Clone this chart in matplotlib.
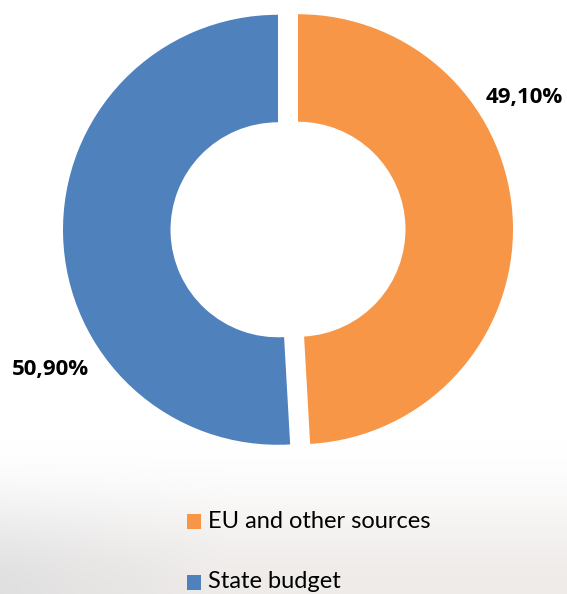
import numpy as np
import matplotlib
matplotlib.use("Agg")
import matplotlib.pyplot as plt
from matplotlib.patches import Rectangle

# ---- data ----
categories = ["EU and other sources", "State budget"]
shares = [49.10, 50.90]
share_labels = ["49,10%", "50,90%"]
colors = ["#F79646", "#4F81BD"]

W, H = 567, 594
fig = plt.figure(figsize=(W / 100, H / 100), dpi=100)
fig.patch.set_facecolor("white")

# background: white fading to a light greyish photo-like tone at the bottom
bg = fig.add_axes([0, 0, 1, 1], zorder=0)
yy = np.linspace(0, 1, H)[:, None]          # 0 top -> 1 bottom
xx = np.linspace(0, 1, W)[None, :]
s = np.clip((yy - 0.74) / 0.26, 0, 1)
t = s * s * (3 - 2 * s)
top = np.array([1.0, 1.0, 1.0])
bot_left = np.array([0.88, 0.878, 0.878])
bot_mid = np.array([0.935, 0.922, 0.915])
bot = bot_left + (bot_mid - bot_left) * np.clip(xx / 0.4, 0, 1)[..., None]
img = top + (bot - top) * t[..., None]
bg.imshow(img, aspect="auto", extent=[0, 1, 0, 1], origin="upper")
bg.set_axis_off()

ax = fig.add_axes([0, 0, 1, 1], zorder=1)
ax.patch.set_alpha(0)
cx, cy = 288, H - 229.5
R = 215
ax.pie(shares, colors=colors, startangle=90, counterclock=False,
       radius=R, center=(cx, cy), explode=[10, 10],
       wedgeprops=dict(width=R * 0.5, edgecolor="none"))
ax.set_xlim(0, W)
ax.set_ylim(0, H)
ax.set_aspect("equal")
ax.set_axis_off()

lab_font = dict(family=["Open Sans", "DejaVu Sans"], fontweight="bold", fontsize=16, color="black")
label_pos = [(524, H - 98), (50, H - 369)]
for txt, (lx, ly) in zip(share_labels, label_pos):
    ax.text(lx, ly, txt, ha="center", va="center", **lab_font)

# legend (vertical, square markers)
leg_font = dict(family=["Lato", "DejaVu Sans"], fontsize=17, color="black")
leg_rows = [H - 521, H - 582]
for name, col, ry in zip(categories, colors, leg_rows):
    ax.add_patch(Rectangle((187, ry - 7.5), 14, 15, facecolor=col, edgecolor="none"))
    ax.text(208, ry, name, ha="left", va="center", **leg_font)

fig.savefig("out.png", dpi=100)
